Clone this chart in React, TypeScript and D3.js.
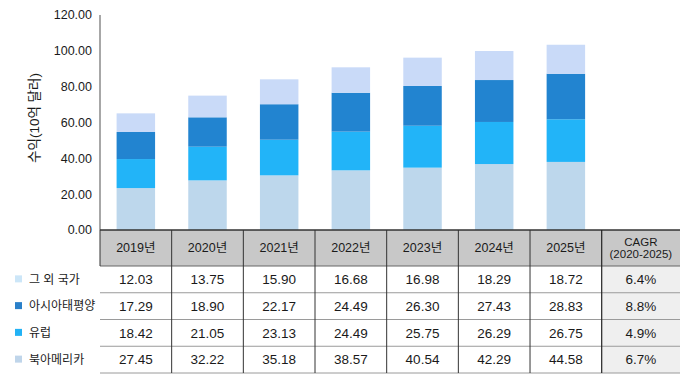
import React from "react";
import * as d3 from "d3";

const years = ["2019년", "2020년", "2021년", "2022년", "2023년", "2024년", "2025년"];
const seriesNames = ["북아메리카", "유럽", "아시아태평양", "그 외 국가"];
const seriesColors = ["#bdd7ec", "#22b4f8", "#2284d0", "#c9daf8"];

// bar heights as drawn in the chart
const barNorthAmerica = [23.4, 27.7, 30.5, 33.3, 34.8, 36.8, 38.0];
const barEurope = [16.2, 18.8, 19.9, 21.6, 23.4, 23.5, 23.8];
const barAsiaPacific = [15.1, 16.4, 19.8, 21.7, 22.2, 23.4, 25.4];
const barOther = [10.4, 12.1, 13.9, 14.2, 15.8, 16.2, 16.2];

// table values
const tblOther = ["12.03", "13.75", "15.90", "16.68", "16.98", "18.29", "18.72"];
const tblAsiaPacific = ["17.29", "18.90", "22.17", "24.49", "26.30", "27.43", "28.83"];
const tblEurope = ["18.42", "21.05", "23.13", "24.49", "25.75", "26.29", "26.75"];
const tblNorthAmerica = ["27.45", "32.22", "35.18", "38.57", "40.54", "42.29", "44.58"];
const cagr = ["6.4%", "8.8%", "4.9%", "6.7%"];
const yTicks = [0, 20, 40, 60, 80, 100, 120];

const W = 687;
const H = 378;
const FONT = "'Liberation Sans', 'Noto Sans CJK KR', sans-serif";

export default function App() {
  const x = d3
    .scaleBand<string>()
    .domain(years)
    .range([100, 601.7])
    .paddingInner(0.463)
    .paddingOuter(0.2315);
  const colX = d3.scaleBand<string>().domain(years).range([100, 601.7]);
  const y = d3.scaleLinear().domain([0, 120]).range([230, 15]);

  const barSeries = [barNorthAmerica, barEurope, barAsiaPacific, barOther];
  const table = years.map((yr, i) => {
    const o: any = { year: yr };
    seriesNames.forEach((s, k) => (o[s] = barSeries[k][i]));
    return o;
  });
  const stacked = d3.stack<any>().keys(seriesNames)(table);

  const tableRows = [
    { name: "그 외 국가", color: "#cce6f8", vals: tblOther, cagr: cagr[0] },
    { name: "아시아태평양", color: "#2a80c9", vals: tblAsiaPacific, cagr: cagr[1] },
    { name: "유럽", color: "#22b2f5", vals: tblEurope, cagr: cagr[2] },
    { name: "북아메리카", color: "#bfd5ea", vals: tblNorthAmerica, cagr: cagr[3] },
  ];
  const rowY = d3.scaleBand<number>().domain([0, 1, 2, 3]).range([266, 373]);
  const tableLeft = 100;
  const cagrLeft = 601.7;
  const tableRight = 680;
  const headTop = 230;
  const headBottom = 266;

  return (
    <svg
      width={W}
      height={H}
      style={{ position: "absolute", left: 0, top: 0, background: "#fff" }}
      fontFamily={FONT}
    >
      {/* bars */}
      {stacked.map((layer, k) => (
        <g key={k} fill={seriesColors[k]}>
          {layer.map((d, i) => (
            <rect
              key={i}
              x={x(years[i])}
              width={x.bandwidth()}
              y={y(d[1])}
              height={y(d[0]) - y(d[1])}
            />
          ))}
        </g>
      ))}

      {/* y axis */}
      <line x1={100} x2={100} y1={y(120)} y2={y(0)} stroke="#8a8a8a" strokeWidth={1.5} />
      {yTicks.map((t) => (
        <text key={t} x={92} y={y(t)} dy="0.35em" textAnchor="end" fontSize={12.5} fill="#1a1a1a">
          {t.toFixed(2)}
        </text>
      ))}
      <text
        transform={`translate(34,118) rotate(-90)`}
        textAnchor="middle"
        dy="0.35em"
        fontSize={13.5}
        fill="#1a1a1a"
      >
        수익(10억 달러)
      </text>

      {/* table header */}
      <rect x={tableLeft} y={headTop} width={tableRight - tableLeft} height={headBottom - headTop} fill="#c8c8c8" />
      <rect x={cagrLeft} y={headBottom} width={tableRight - cagrLeft} height={373 - headBottom} fill="#efefef" />
      {years.map((yr) => (
        <text
          key={yr}
          x={(colX(yr) as number) + colX.bandwidth() / 2}
          y={(headTop + headBottom) / 2}
          dy="0.35em"
          textAnchor="middle"
          fontSize={12.5}
          fill="#1a1a1a"
        >
          {yr}
        </text>
      ))}
      <text x={(cagrLeft + tableRight) / 2} y={241.5} dy="0.35em" textAnchor="middle" fontSize={11.5} fill="#1a1a1a">
        CAGR
      </text>
      <text x={(cagrLeft + tableRight) / 2} y={254} dy="0.35em" textAnchor="middle" fontSize={11.5} fill="#1a1a1a">
        (2020-2025)
      </text>

      {/* table rows */}
      {tableRows.map((r, i) => {
        const top = rowY(i) as number;
        const cy = top + rowY.bandwidth() / 2;
        return (
          <g key={r.name}>
            <rect x={15} y={cy - 4} width={7} height={7} fill={r.color} />
            <text x={29} y={cy} dy="0.35em" fontSize={12} fill="#1a1a1a">
              {r.name}
            </text>
            {r.vals.map((v, j) => (
              <text
                key={j}
                x={(colX(years[j]) as number) + colX.bandwidth() / 2}
                y={cy}
                dy="0.35em"
                textAnchor="middle"
                fontSize={13.5}
                fill="#1a1a1a"
              >
                {v}
              </text>
            ))}
            <text x={(cagrLeft + tableRight) / 2} y={cy} dy="0.35em" textAnchor="middle" fontSize={13.5} fill="#1a1a1a">
              {r.cagr}
            </text>
            <line x1={tableLeft} x2={tableRight} y1={top + rowY.bandwidth()} y2={top + rowY.bandwidth()} stroke="#9a9a9a" strokeWidth={1} />
          </g>
        );
      })}

      {/* table lines */}
      <line x1={tableLeft} x2={tableRight} y1={headTop} y2={headTop} stroke="#333" strokeWidth={1.5} />
      <line x1={tableLeft} x2={tableRight} y1={headBottom} y2={headBottom} stroke="#666" strokeWidth={1} />
      <line x1={tableLeft} x2={tableLeft} y1={headTop} y2={headBottom} stroke="#333" strokeWidth={1} />
      {years.slice(1).map((yr) => (
        <line
          key={yr}
          x1={colX(yr) as number}
          x2={colX(yr) as number}
          y1={headTop}
          y2={373}
          stroke="#333"
          strokeWidth={1}
        />
      ))}
      <line x1={cagrLeft} x2={cagrLeft} y1={headTop} y2={373} stroke="#222" strokeWidth={1.2} />
    </svg>
  );
}
